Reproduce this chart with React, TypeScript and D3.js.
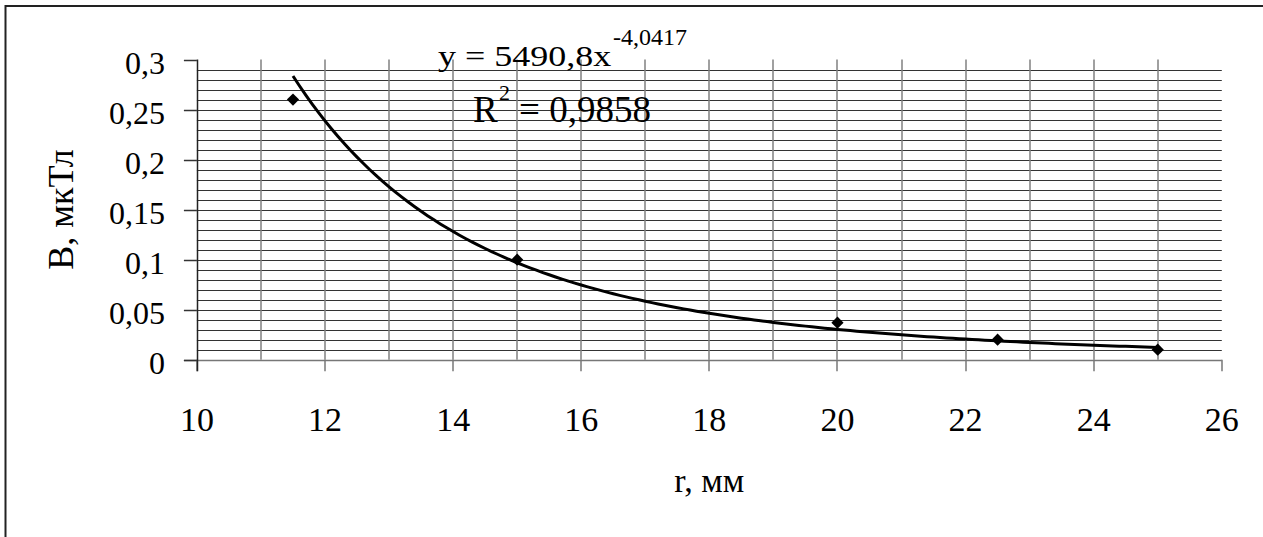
import React from "react";
import * as d3 from "d3";

// Measured induction B (мкТл) at distance r (мм)
const rValues = [11.5, 15, 20, 22.5, 25];
const bValues = [0.26, 0.1, 0.037, 0.02, 0.01];

// Power trendline y = a * x^b, as reported on the chart
const trendA = 5490.8;
const trendB = -4.0417;
const trendR2 = "0,9858";

const xTicks = [10, 12, 14, 16, 18, 20, 22, 24, 26];
const yTicks = [0, 0.05, 0.1, 0.15, 0.2, 0.25, 0.3];

const W = 1263;
const H = 537;
const fmt = (v: number) => String(+v.toFixed(2)).replace(".", ",");
const comma = (v: number) => String(v).replace(".", ",");
const serif: React.CSSProperties = { fontFamily: '"Liberation Serif", "Times New Roman", Times, serif' };

export default function App() {
  const x = d3.scaleLinear().domain([10, 26]).range([196.9, 1221.8]);
  const y = d3.scaleLinear().domain([0, 0.3]).range([359.7, 59.5]);

  const hGrid = d3.range(1, 30).map((i) => i / 100);
  const vGrid = d3.range(11, 26);

  const trendPts = d3.range(0, 136).map((i) => {
    const r = 11.5 + i * 0.1;
    return [r, trendA * Math.pow(r, trendB)] as [number, number];
  });
  const line = d3
    .line<[number, number]>()
    .x((d) => x(d[0]))
    .y((d) => y(d[1]));

  const diamond = d3.symbol().type(d3.symbolDiamond2).size(95)();

  const x0 = x(10);
  const x1 = x(26);
  const yTop = y(0.3);
  const yBot = y(0);

  return (
    <svg
      width={W}
      height={H}
      style={{ position: "absolute", left: 0, top: 0, background: "#fff" }}
    >
      <rect x={0} y={0} width={W} height={H} fill="#fff" />
      {/* outer frame */}
      <rect x={5.5} y={6} width={W + 20} height={H + 20} fill="none" stroke="#222" strokeWidth={2} />

      {/* horizontal minor grid */}
      {hGrid.map((v) => (
        <line
          key={"h" + v}
          x1={x0}
          x2={x1}
          y1={Math.round(y(v)) + 0.5}
          y2={Math.round(y(v)) + 0.5}
          stroke="#333"
          strokeWidth={1}
        />
      ))}
      {/* vertical grid */}
      {vGrid.map((v) => (
        <line
          key={"v" + v}
          x1={Math.round(x(v))}
          x2={Math.round(x(v))}
          y1={yTop}
          y2={yBot}
          stroke="#808080"
          strokeWidth={1.5}
        />
      ))}

      {/* x axis */}
      <line x1={x0 - 13} x2={x1} y1={Math.round(yBot) + 0.5} y2={Math.round(yBot) + 0.5} stroke="#777" strokeWidth={1.5} />
      {xTicks.map((t) => (
        <line
          key={"xt" + t}
          x1={Math.round(x(t))}
          x2={Math.round(x(t))}
          y1={yBot}
          y2={yBot + 11.5}
          stroke="#777"
          strokeWidth={1.5}
        />
      ))}
      {xTicks.map((t) => (
        <text key={"xl" + t} x={x(t)} y={431} textAnchor="middle" fontSize={34} fill="#000" style={serif}>
          {t}
        </text>
      ))}

      {/* y axis */}
      <line x1={Math.round(x0) + 0.5} x2={Math.round(x0) + 0.5} y1={yTop} y2={yBot + 11.5} stroke="#222" strokeWidth={1.5} />
      {yTicks.map((t) => (
        <line
          key={"yt" + t}
          x1={x0 - 13}
          x2={x0}
          y1={Math.round(y(t)) + 0.5}
          y2={Math.round(y(t)) + 0.5}
          stroke="#333"
          strokeWidth={1.5}
        />
      ))}
      {yTicks.map((t) => (
        <text key={"yl" + t} x={165} y={y(t) + 14.5} textAnchor="end" fontSize={32} fill="#000" style={serif}>
          {fmt(t)}
        </text>
      ))}

      {/* axis titles */}
      <text
        transform={`translate(73, ${(yTop + yBot) / 2}) rotate(-90)`}
        textAnchor="middle"
        fontSize={36}
        fill="#000"
        style={serif}
      >
        B, мкТл
      </text>
      <text x={(x0 + x1) / 2} y={492} textAnchor="middle" fontSize={34} fill="#000" style={serif}>
        r, мм
      </text>

      {/* power trendline */}
      <path d={line(trendPts) || ""} fill="none" stroke="#000" strokeWidth={3} />

      {/* measured points */}
      {rValues.map((r, i) => (
        <path key={"p" + i} d={diamond || ""} transform={`translate(${x(r)}, ${y(bValues[i])})`} fill="#000" />
      ))}

      {/* trendline equation */}
      <text transform="translate(438, 65.7) scale(1, 0.8)" fontSize={36} fill="#000" style={serif}>
        y = {comma(trendA)}x
      </text>
      <text x={613} y={45} fontSize={24} fill="#000" style={serif}>
        {comma(trendB)}
      </text>
      <text x={473} y={122} fontSize={37} fill="#000" style={serif}>
        R
      </text>
      <text x={499} y={100} fontSize={22} fill="#000" style={serif}>
        2
      </text>
      <text x={519} y={122} fontSize={37} fill="#000" style={serif}>
        = {trendR2}
      </text>
    </svg>
  );
}
